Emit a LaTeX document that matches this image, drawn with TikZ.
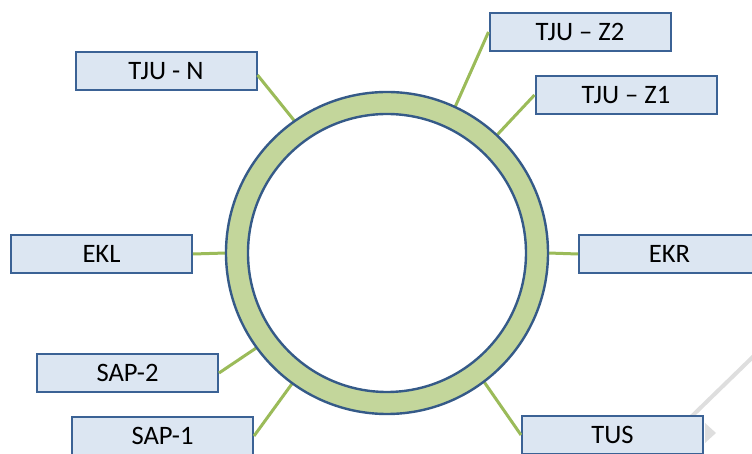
\documentclass[tikz,border=0pt]{standalone}
\usepackage{fontspec}
\setmainfont{Carlito}
\definecolor{boxfill}{HTML}{DCE6F2}
\definecolor{boxline}{HTML}{3B6295}
\definecolor{ringline}{HTML}{355A88}
\definecolor{ringfill}{HTML}{C3D69B}
\definecolor{linkgreen}{HTML}{9BBB59}
\definecolor{faint}{HTML}{DEDEDE}
\tikzset{
  station/.style={draw=boxline, fill=boxfill, line width=1pt, rectangle,
    minimum width=90.5pt, minimum height=19pt, inner sep=0pt,
    font=\fontsize{13.3pt}{15pt}\selectfont},
  link/.style={draw=linkgreen, line width=1.5pt},
}
\begin{document}
\begin{tikzpicture}[x=0.5pt, y=-0.5pt]
\useasboundingbox (0,0) rectangle (752,454);
\clip (0,0) rectangle (752,454);
\fill[white] (0,0) rectangle (752,454);

% faint stroke and tip from a neighbouring shape
\draw[faint, line width=2pt] (760,350) -- (690,418);
\fill[faint] (705,423) -- (716,433) -- (705,443) -- cycle;

% ring anchor (outer boundary)
\node[circle, minimum size=161pt, inner sep=0pt, outer sep=0pt] (ring) at (387,253) {};

% stations
\node[station] (TJUN)  at (166,71)    {TJU - N};
\node[station] (TJUZ2) at (580,32)    {TJU – Z2};
\node[station] (TJUZ1) at (626,95)    {TJU – Z1};
\node[station] (EKL)   at (101.5,254) {EKL};
\node[station] (EKR)   at (669.5,254) {EKR};
\node[station] (SAP2)  at (127.5,373) {SAP-2};
\node[station] (SAP1)  at (162.5,436) {SAP-1};
\node[station] (TUS)   at (612.5,435) {TUS};

% links from stations to the ring
\draw[link] ([yshift=-2pt]TJUN.east) -- (ring.125.5);
\draw[link] (TJUZ2.west) -- (ring.65.6);
\draw[link] (TJUZ1.west) -- (ring.47);
\draw[link] (EKL.east) -- (ring.180);
\draw[link] (EKR.west) -- (ring.0);
\draw[link] (SAP2.east) -- (ring.216);
\draw[link] (SAP1.east) -- (ring.234);
\draw[link] (TUS.west) -- (ring.-53.8);

% the ring itself
\fill[ringfill, even odd rule] (ring.center) circle[radius=80.5pt] (ring.center) circle[radius=69.5pt];
\draw[ringline, line width=1.2pt] (ring.center) circle[radius=80.5pt];
\draw[ringline, line width=1.2pt] (ring.center) circle[radius=69.5pt];
\end{tikzpicture}
\end{document}
